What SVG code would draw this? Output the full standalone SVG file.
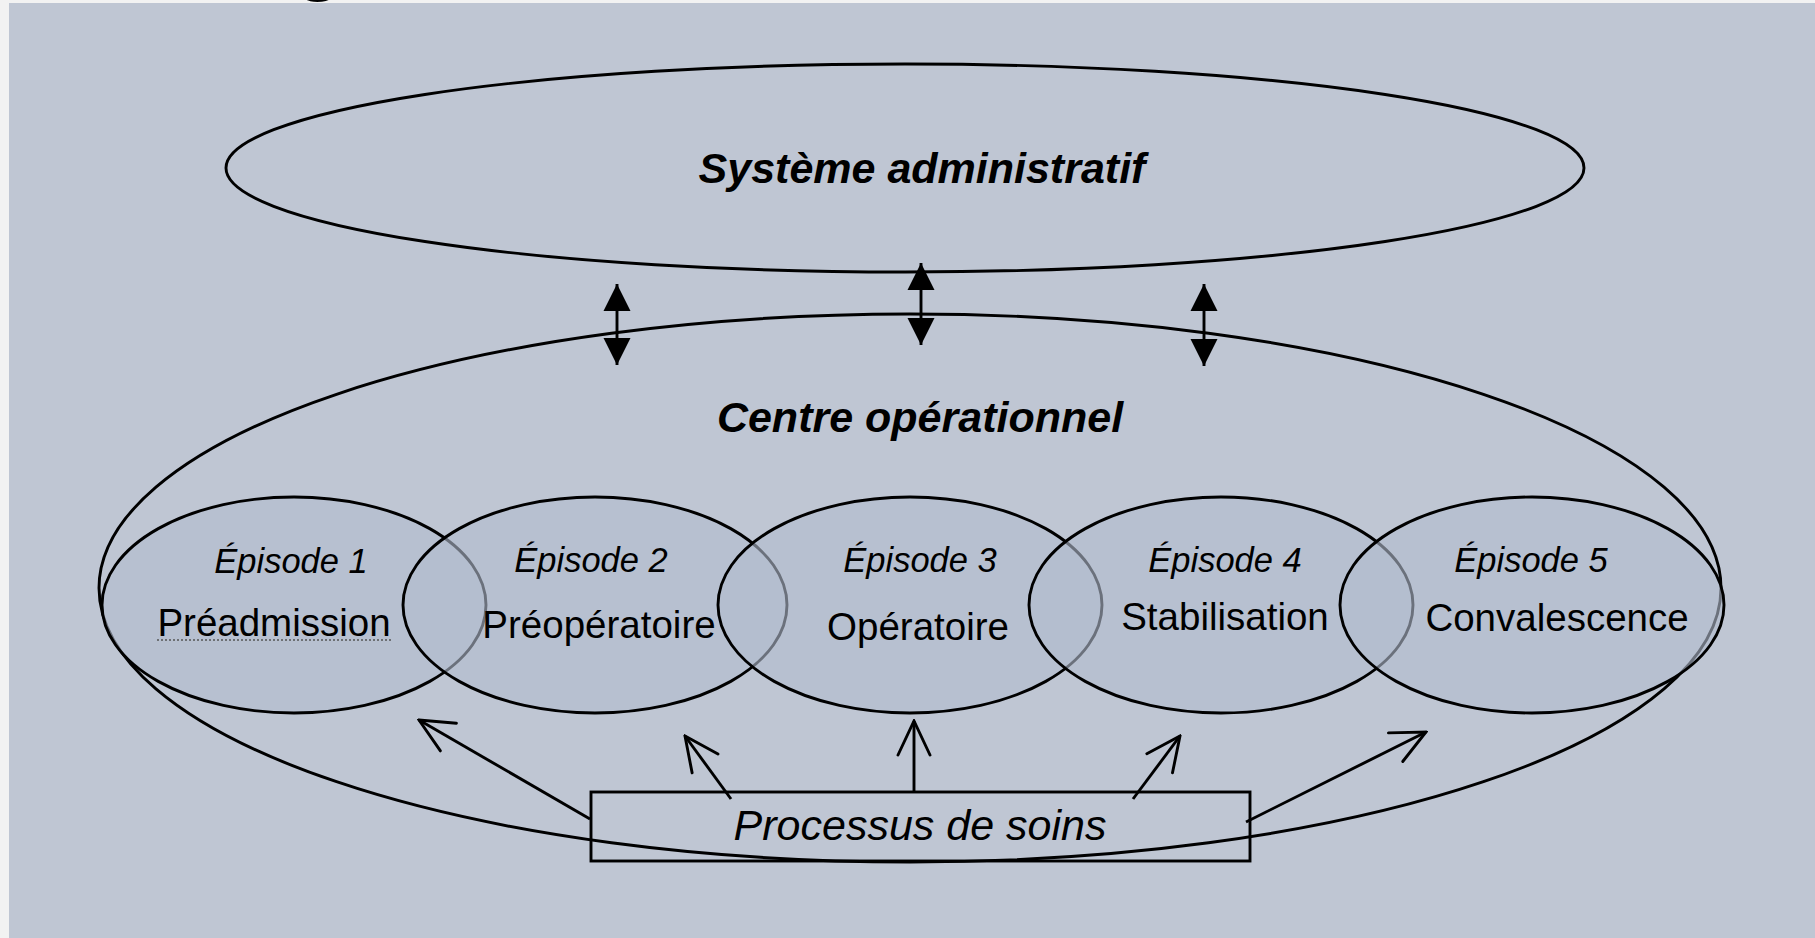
<svg xmlns="http://www.w3.org/2000/svg" width="1815" height="938" viewBox="0 0 1815 938">
<defs>
<style>
.ln{stroke:#000;stroke-width:2.9;fill:none}
.ep{stroke:#000;stroke-width:2.9;fill:#b3bdcf;fill-opacity:0.6}
.t{font-family:"Liberation Sans",Arial,sans-serif;fill:#000;text-anchor:middle}
.big{font-size:43px;font-weight:bold;font-style:italic}
.epi{font-size:34.5px;font-style:italic}
.lab{font-size:38.5px}
.proc{font-size:43px;font-style:italic}
</style>
<marker id="tri" viewBox="-27 -14 28 28" refX="0" refY="0" markerWidth="28" markerHeight="28" markerUnits="userSpaceOnUse" orient="auto-start-reverse">
<path d="M0,0 L-27,-13.5 L-27,13.5 Z" fill="#000"/>
</marker>
<marker id="open" viewBox="-40 -20 42 40" refX="0" refY="0" markerWidth="42" markerHeight="40" markerUnits="userSpaceOnUse" orient="auto">
<path d="M-34,-16 L0,0 L-34,16" fill="none" stroke="#000" stroke-width="2.9" stroke-linecap="round" stroke-linejoin="miter"/>
</marker>
</defs>
<rect x="0" y="0" width="1815" height="938" fill="#f2f2f2"/>
<rect x="9" y="3" width="1806" height="935" fill="#bfc6d3"/>
<text x="294" y="-15" font-family="Liberation Sans, Arial, sans-serif" font-weight="bold" font-size="80" fill="#000">g</text>

<g id="centre-operationnel">
<ellipse class="ln" cx="910" cy="588" rx="811" ry="274"/>
<text class="t big" x="920" y="432">Centre opérationnel</text>
</g>
<g id="systeme-administratif">
<ellipse class="ln" cx="905" cy="168" rx="679" ry="104"/>
<text class="t big" x="922" y="183">Système administratif</text>
</g>

<g id="connectors">
<line class="ln" x1="617" y1="284" x2="617" y2="365" marker-start="url(#tri)" marker-end="url(#tri)"/>
<line class="ln" x1="921" y1="263" x2="921" y2="345" marker-start="url(#tri)" marker-end="url(#tri)"/>
<line class="ln" x1="1204" y1="284" x2="1204" y2="366" marker-start="url(#tri)" marker-end="url(#tri)"/>
<line class="ln" x1="590" y1="819" x2="419" y2="720" marker-end="url(#open)"/>
<line class="ln" x1="731" y1="799" x2="685" y2="736" marker-end="url(#open)"/>
<line class="ln" x1="914" y1="792" x2="914" y2="721" marker-end="url(#open)"/>
<line class="ln" x1="1133" y1="799" x2="1180" y2="736" marker-end="url(#open)"/>
<line class="ln" x1="1246" y1="822" x2="1426" y2="732" marker-end="url(#open)"/>
</g>

<g id="episode1">
<ellipse class="ep" cx="294" cy="605" rx="192" ry="108"/>
<text class="t epi" x="291" y="573">Épisode 1</text>
<text class="t lab" x="274" y="636">Préadmission</text>
<line x1="157" y1="640" x2="393" y2="640" stroke="#555" stroke-width="1.3" stroke-dasharray="2,2"/>
</g>
<g id="episode2">
<ellipse class="ep" cx="595" cy="605" rx="192" ry="108"/>
<text class="t epi" x="591" y="572">Épisode 2</text>
<text class="t lab" x="599" y="638">Préopératoire</text>
</g>
<g id="episode3">
<ellipse class="ep" cx="910" cy="605" rx="192" ry="108"/>
<text class="t epi" x="920" y="572">Épisode 3</text>
<text class="t lab" x="918" y="640">Opératoire</text>
</g>
<g id="episode4">
<ellipse class="ep" cx="1221" cy="605" rx="192" ry="108"/>
<text class="t epi" x="1225" y="572">Épisode 4</text>
<text class="t lab" x="1225" y="630">Stabilisation</text>
</g>
<g id="episode5">
<ellipse class="ep" cx="1532" cy="605" rx="192" ry="108"/>
<text class="t epi" x="1531" y="572">Épisode 5</text>
<text class="t lab" x="1557" y="631">Convalescence</text>
</g>

<g id="processus-de-soins">
<rect class="ln" x="591" y="792" width="659" height="69"/>
<text class="t proc" x="920" y="840">Processus de soins</text>
</g>
</svg>
